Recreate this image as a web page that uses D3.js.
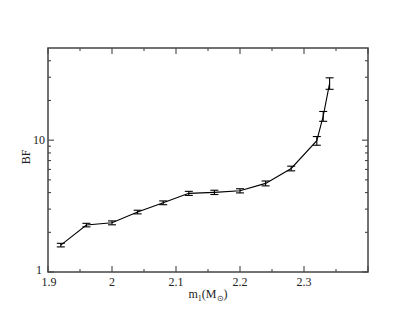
<!DOCTYPE html>
<html><head><meta charset="utf-8">
<script src="https://cdn.jsdelivr.net/npm/d3@7"></script>
<style>body{margin:0;background:#fff}svg{display:block}</style>
</head><body>
<script>
const masses = [1.92, 1.96, 2.00, 2.04, 2.08, 2.12, 2.16, 2.20, 2.24, 2.28, 2.32, 2.33, 2.34];
const bf     = [1.60, 2.27, 2.36, 2.85, 3.35, 3.95, 4.02, 4.13, 4.70, 6.10, 9.9, 15.2, 27.0];
const bfErr  = [0.05, 0.07, 0.08, 0.09, 0.11, 0.14, 0.15, 0.15, 0.20, 0.25, 0.75, 1.3, 2.7];
const xMajor = [1.9, 2.0, 2.1, 2.2, 2.3, 2.4];
const xMinor = [1.95, 2.05, 2.15, 2.25, 2.35];
const xLabels = ["1.9", "2", "2.1", "2.2", "2.3", ""];
const yMajor = [1, 10];
const yMinor = [2,3,4,5,6,7,8,9,20,30,40];
const yLabels = ["1", "10"];

const W = 415, H = 321;
const m = {l:48, r:47, t:48, b:49};
const svg = d3.select("body").append("svg").attr("width", W).attr("height", H);
const x = d3.scaleLinear().domain([1.9, 2.4]).range([m.l, W - m.r]);
const y = d3.scaleLog().domain([1, 50]).range([H - m.b, m.t]);
const font = "'Liberation Serif', 'Times New Roman', serif";

const g = svg.append("g");
const tk = (vals, len, axis) => {
  vals.forEach(v => {
    if (axis === "x") {
      const px = x(v);
      g.append("line").attr("x1", px).attr("x2", px).attr("y1", y(1)).attr("y2", y(1) - len).attr("stroke", "#333");
      g.append("line").attr("x1", px).attr("x2", px).attr("y1", y(50)).attr("y2", y(50) + len).attr("stroke", "#333");
    } else {
      const py = y(v);
      g.append("line").attr("x1", x(1.9)).attr("x2", x(1.9) + len).attr("y1", py).attr("y2", py).attr("stroke", "#333");
      g.append("line").attr("x1", x(2.4)).attr("x2", x(2.4) - len).attr("y1", py).attr("y2", py).attr("stroke", "#333");
    }
  });
};
tk(xMajor, 6, "x"); tk(xMinor, 3, "x");
tk(yMajor, 6, "y"); tk(yMinor, 3, "y");

g.append("rect").attr("x", x(1.9)).attr("y", y(50)).attr("width", x(2.4) - x(1.9)).attr("height", y(1) - y(50))
  .attr("fill", "none").attr("stroke", "#444").attr("stroke-width", 1.5);

xMajor.forEach((v, i) => {
  g.append("text").attr("x", x(v) + (i === 0 ? 1 : 0)).attr("y", y(1) + 14).attr("text-anchor", "middle")
    .attr("font-family", font).attr("font-size", 12).attr("fill", "#222").text(xLabels[i]);
});
yMajor.forEach((v, i) => {
  g.append("text").attr("x", x(1.9) - (i === 0 ? 6 : 3)).attr("y", y(v) + (i === 0 ? 2 : 4)).attr("text-anchor", "end")
    .attr("font-family", font).attr("font-size", 12).attr("fill", "#222").text(yLabels[i]);
});

const xt = g.append("text").attr("x", (x(1.9) + x(2.4)) / 2).attr("y", 298).attr("text-anchor", "middle")
  .attr("font-family", font).attr("font-size", 12).attr("fill", "#222");
xt.append("tspan").text("m");
xt.append("tspan").attr("font-size", 8).attr("dy", 3).text("1");
xt.append("tspan").attr("dy", -3).text("(M");
xt.append("tspan").attr("font-size", 8).attr("dy", 3).text("⊙");
xt.append("tspan").attr("dy", -3).text(")");
g.append("text").attr("transform", "translate(30,157) rotate(-90)").attr("text-anchor", "middle")
  .attr("font-family", font).attr("font-size", 12).attr("fill", "#222").text("BF");

const pts = masses.map((d, i) => [d, bf[i], bfErr[i]]);
g.append("path").datum(pts).attr("fill", "none").attr("stroke", "#000").attr("stroke-width", 1.1)
  .attr("d", d3.line().x(d => x(d[0])).y(d => y(d[1])));
const eb = g.selectAll("g.eb").data(pts).join("g").attr("stroke", "#000").attr("stroke-width", 1.1);
eb.append("line").attr("x1", d => x(d[0])).attr("x2", d => x(d[0]))
  .attr("y1", d => y(d[1] - d[2])).attr("y2", d => y(d[1] + d[2]));
eb.append("line").attr("x1", d => x(d[0]) - 4).attr("x2", d => x(d[0]) + 4)
  .attr("y1", d => y(d[1] - d[2])).attr("y2", d => y(d[1] - d[2]));
eb.append("line").attr("x1", d => x(d[0]) - 4).attr("x2", d => x(d[0]) + 4)
  .attr("y1", d => y(d[1] + d[2])).attr("y2", d => y(d[1] + d[2]));
</script>
</body></html>
